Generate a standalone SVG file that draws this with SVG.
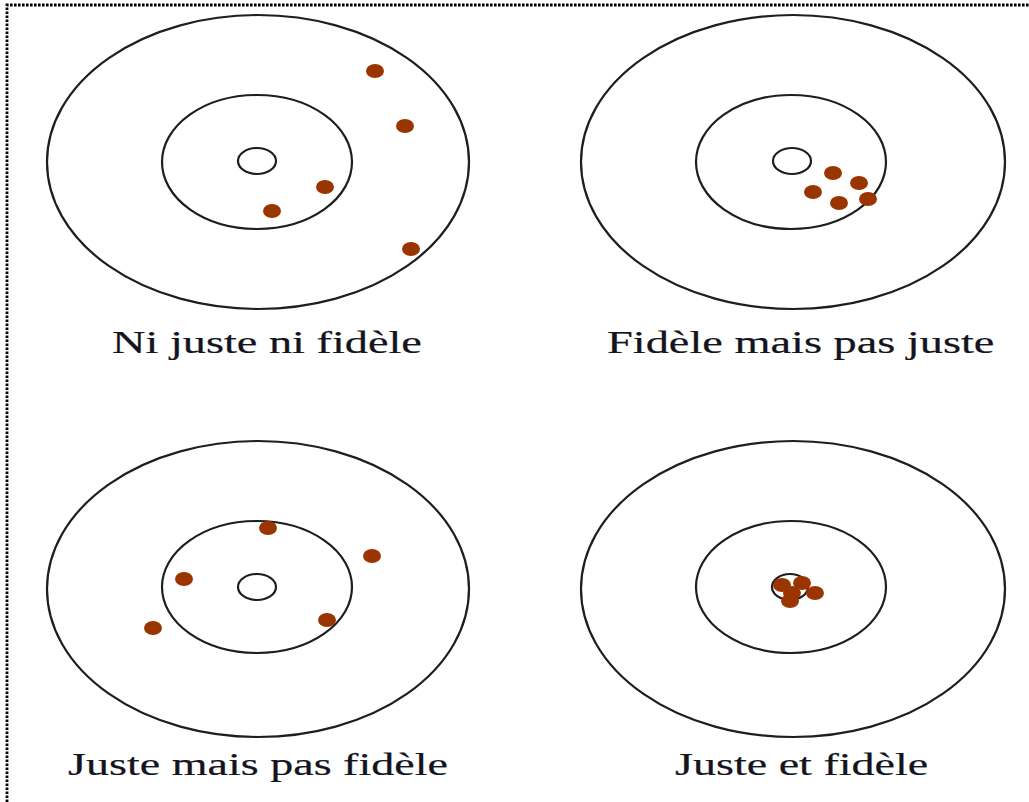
<svg xmlns="http://www.w3.org/2000/svg" width="1029" height="802" viewBox="0 0 1029 802">
<style>
.ring{fill:none;stroke:#1e1e1e;stroke-width:2.2}
.hit{fill:#9b3500}
.lbl{font-family:"Liberation Serif","Times New Roman",serif;font-size:31px;fill:#141420;stroke:#141420;stroke-width:0.2}
</style>
<rect width="1029" height="802" fill="#fff"/>
<path d="M7,802 V5 H1029" fill="none" stroke="#000" stroke-width="2.8" stroke-dasharray="2.6,1.4"/>
<g id="target-ni-juste-ni-fidele">
<ellipse class="ring" cx="258" cy="162" rx="211" ry="147"/>
<ellipse class="ring" cx="257" cy="162" rx="95" ry="67"/>
<ellipse class="ring" cx="257" cy="161" rx="19" ry="13"/>
<ellipse class="hit" cx="375" cy="71" rx="9" ry="7"/>
<ellipse class="hit" cx="405" cy="126" rx="9" ry="7"/>
<ellipse class="hit" cx="325" cy="187" rx="9" ry="7"/>
<ellipse class="hit" cx="272" cy="211" rx="9" ry="7"/>
<ellipse class="hit" cx="411" cy="249" rx="9" ry="7"/>
<text class="lbl" transform="translate(112,353) scale(1.49,1)" x="0" y="0" textLength="208" lengthAdjust="spacingAndGlyphs">Ni juste ni fidèle</text>
</g>
<g id="target-fidele-mais-pas-juste">
<ellipse class="ring" cx="793" cy="162" rx="212" ry="147"/>
<ellipse class="ring" cx="791" cy="162" rx="95" ry="67"/>
<ellipse class="ring" cx="792" cy="161" rx="19" ry="13"/>
<ellipse class="hit" cx="833" cy="173" rx="9" ry="7"/>
<ellipse class="hit" cx="859" cy="183" rx="9" ry="7"/>
<ellipse class="hit" cx="813" cy="192" rx="9" ry="7"/>
<ellipse class="hit" cx="839" cy="203" rx="9" ry="7"/>
<ellipse class="hit" cx="868" cy="199" rx="9" ry="7"/>
<text class="lbl" transform="translate(607,353) scale(1.49,1)" x="0" y="0" textLength="260" lengthAdjust="spacingAndGlyphs">Fidèle mais pas juste</text>
</g>
<g id="target-juste-mais-pas-fidele">
<ellipse class="ring" cx="258" cy="589" rx="211" ry="148"/>
<ellipse class="ring" cx="257" cy="587" rx="95" ry="66"/>
<ellipse class="ring" cx="257" cy="587" rx="19" ry="13"/>
<ellipse class="hit" cx="268" cy="528" rx="9" ry="7"/>
<ellipse class="hit" cx="372" cy="556" rx="9" ry="7"/>
<ellipse class="hit" cx="184" cy="579" rx="9" ry="7"/>
<ellipse class="hit" cx="327" cy="620" rx="9" ry="7"/>
<ellipse class="hit" cx="153" cy="628" rx="9" ry="7"/>
<text class="lbl" transform="translate(68,775) scale(1.49,1)" x="0" y="0" textLength="255" lengthAdjust="spacingAndGlyphs">Juste mais pas fidèle</text>
</g>
<g id="target-juste-et-fidele">
<ellipse class="ring" cx="793" cy="589" rx="212" ry="148"/>
<ellipse class="ring" cx="791" cy="587" rx="95" ry="66"/>
<ellipse class="ring" cx="790" cy="587" rx="18" ry="13"/>
<ellipse class="hit" cx="782" cy="585" rx="9" ry="7"/>
<ellipse class="hit" cx="802" cy="583" rx="9" ry="7"/>
<ellipse class="hit" cx="792" cy="593" rx="9" ry="7"/>
<ellipse class="hit" cx="790" cy="601" rx="9" ry="7"/>
<ellipse class="hit" cx="815" cy="593" rx="9" ry="7"/>
<text class="lbl" transform="translate(675,775) scale(1.49,1)" x="0" y="0" textLength="170" lengthAdjust="spacingAndGlyphs">Juste et fidèle</text>
</g>
</svg>
